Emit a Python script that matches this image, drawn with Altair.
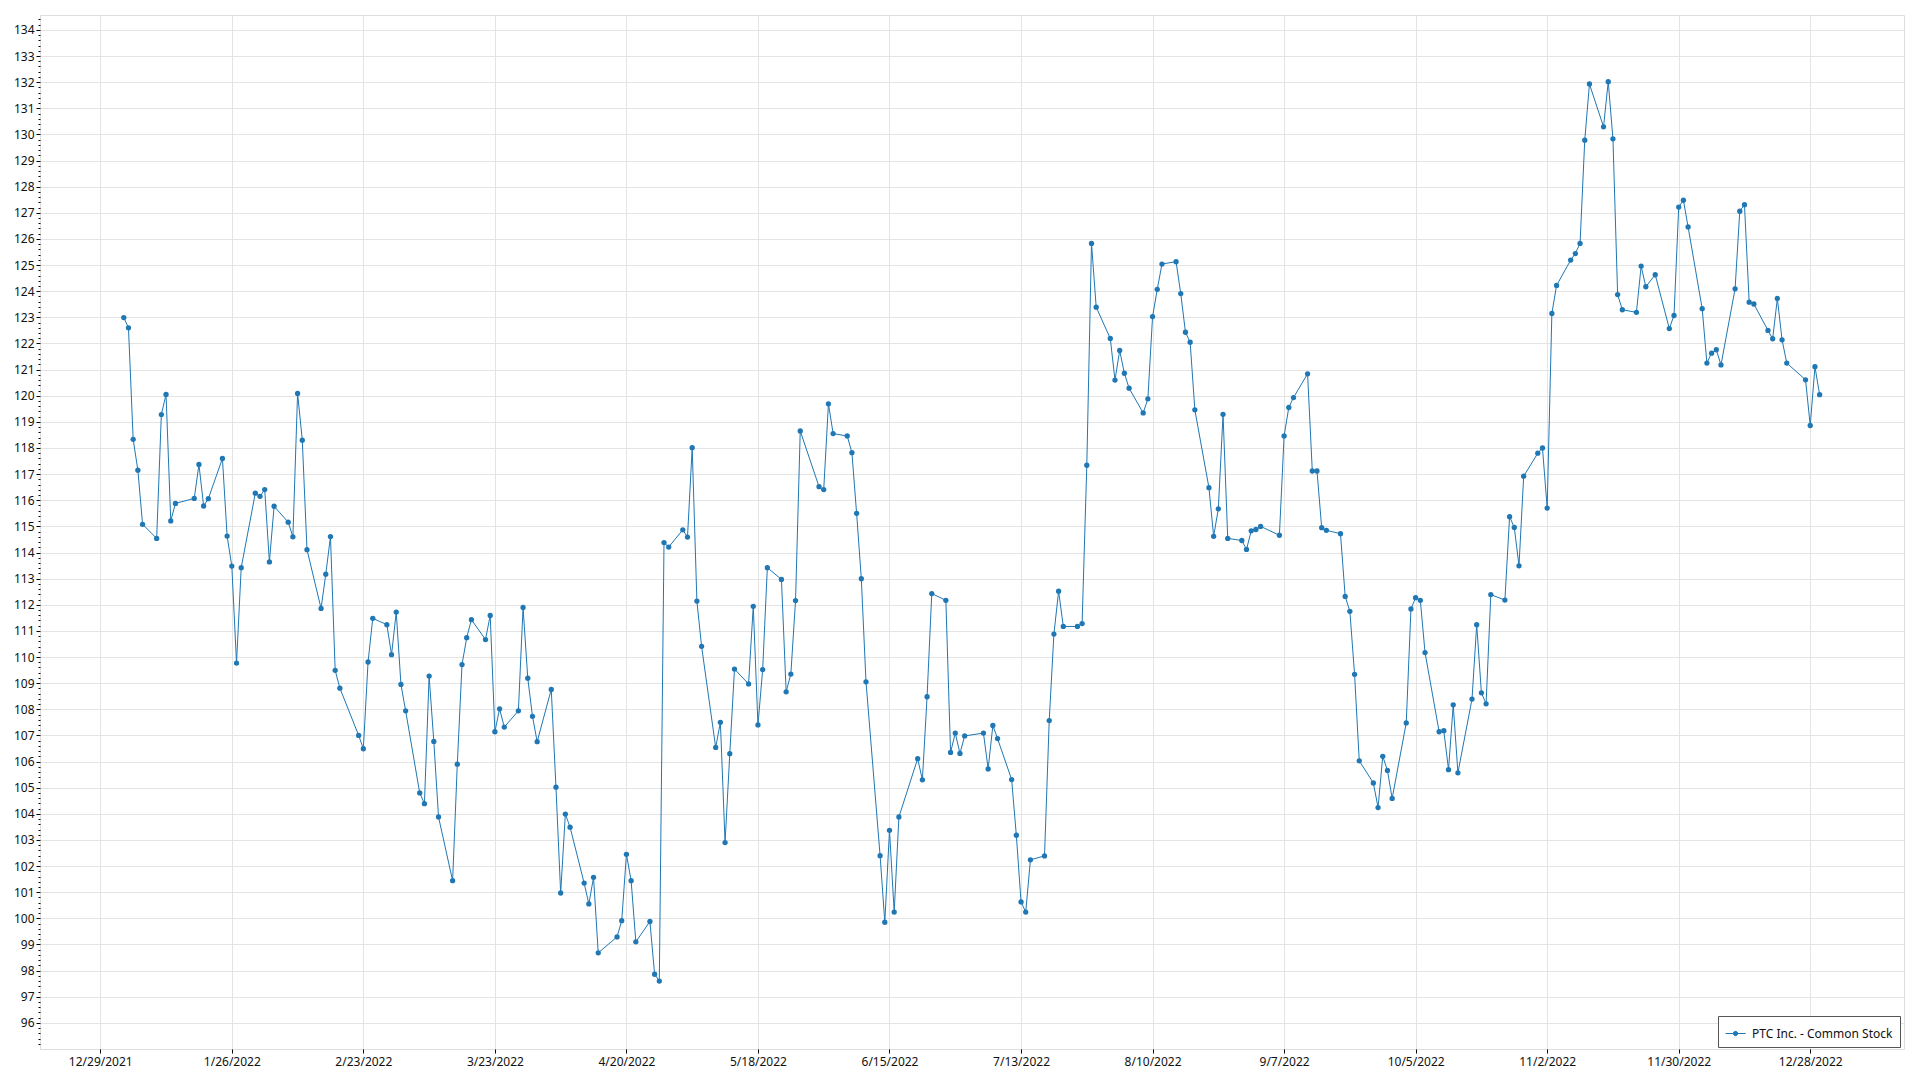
import altair as alt
import pandas as pd

series_name = "PTC Inc. - Common Stock"

# NYSE holidays falling on weekdays in 2022 (no trading)
holidays = ["2022-01-17", "2022-02-21", "2022-04-15", "2022-05-30", "2022-06-20",
            "2022-07-04", "2022-09-05", "2022-11-24", "2022-12-26"]

jan = [122.99, 122.6, 118.33, 117.15, 115.08, 114.54, 119.28, 120.05, 115.21, 115.88,
       116.07, 117.37, 115.78, 116.06, 117.6, 114.63, 113.48, 109.77, 113.42, 116.27]
feb = [116.15, 116.41, 113.64, 115.77, 115.16, 114.6, 120.09, 118.3, 114.11, 111.86,
       113.17, 114.61, 109.49, 108.81, 107.0, 106.49, 109.81, 111.48, 111.24]
mar = [110.09, 111.72, 108.95, 107.94, 104.8, 104.39, 109.27, 106.77, 103.88, 101.44,
       105.9, 109.71, 110.74, 111.43, 110.67, 111.59, 107.14, 108.02, 107.32, 107.94,
       111.9, 109.19, 107.73]
apr = [106.76, 108.76, 105.02, 100.97, 103.99, 103.49, 101.35, 100.55, 101.57, 98.68,
       99.29, 99.91, 102.45, 101.44, 99.1, 99.88, 97.86, 97.6, 114.38, 114.21]
may = [114.87, 114.59, 118.01, 112.14, 110.41, 106.54, 107.5, 102.9, 106.3, 109.54,
       108.97, 111.94, 107.4, 109.52, 113.42, 112.97, 108.67, 109.35, 112.16, 118.65,
       116.52]
jun = [116.41, 119.69, 118.55, 118.46, 117.82, 115.5, 113.0, 109.05, 102.4, 99.85,
       103.37, 100.24, 103.88, 106.11, 105.3, 108.48, 112.43, 112.17, 106.35, 107.09,
       106.31]
jul = [106.98, 107.09, 105.72, 107.38, 106.88, 105.31, 103.18, 100.63, 100.24, 102.24,
       102.39, 107.57, 110.88, 112.52, 111.17, 111.17, 111.28, 117.34, 125.83, 123.39]
aug = [122.19, 120.6, 121.73, 120.86, 120.29, 119.34, 119.88, 123.03, 124.07, 125.04,
       125.13, 123.91, 122.43, 122.05, 119.46, 116.48, 114.62, 115.67, 119.29, 114.54,
       114.46, 114.12, 114.83]
sep = [114.88, 115.0, 114.66, 118.46, 119.55, 119.93, 120.84, 117.12, 117.12, 114.95,
       114.85, 114.72, 112.32, 111.75, 109.34, 106.03, 105.18, 104.24, 106.2, 105.66,
       104.59]
oct = [107.48, 111.84, 112.27, 112.17, 110.17, 107.14, 107.18, 105.69, 108.17, 105.57,
       108.39, 111.24, 108.63, 108.21, 112.39, 112.18, 115.37, 114.96, 113.49, 116.92,
       117.8]
nov = [118.0, 115.7, 123.15, 124.22, 125.19, 125.44, 125.83, 129.78, 131.93, 130.29,
       132.02, 129.83, 123.87, 123.29, 123.19, 124.96, 124.17, 124.63, 122.57, 123.07,
       127.22]
dec = [127.48, 126.46, 123.33, 121.25, 121.63, 121.76, 121.18, 124.09, 127.06, 127.31,
       123.58, 123.51, 122.5, 122.18, 123.72, 122.14, 121.25, 120.61, 118.86, 121.11,
       120.04]

prices = jan + feb + mar + apr + may + jun + jul + aug + sep + oct + nov + dec

x_ticks = ["2021-12-29", "2022-01-26", "2022-02-23", "2022-03-23", "2022-04-20",
           "2022-05-18", "2022-06-15", "2022-07-13", "2022-08-10", "2022-09-07",
           "2022-10-05", "2022-11-02", "2022-11-30", "2022-12-28"]
y_ticks = list(range(96, 135))
x_domain = ["2021-12-16T04:00:00", "2023-01-16T23:00:00"]
y_domain = [95.0, 134.57]

trade_dates = pd.bdate_range("2022-01-03", "2022-12-30", freq="C", holidays=holidays)
df = pd.DataFrame({"date": trade_dates.strftime("%Y-%m-%d"),
                   "price": prices,
                   "series": series_name})


def ms(s):
    return int(pd.Timestamp(s).value // 10**6)


FONT = "Noto Sans"
LINE_COLOR = "#1f77b4"

xscale = alt.Scale(type="utc", domain=[ms(d) for d in x_domain], nice=False)
yscale = alt.Scale(domain=y_domain, nice=False, zero=False)

main = alt.Chart(df).mark_line(
    strokeWidth=1,
    color=LINE_COLOR,
    point=alt.OverlayMarkDef(filled=True, size=28, opacity=1, color=LINE_COLOR),
).encode(
    x=alt.X("date:T", scale=xscale, title=None,
            axis=alt.Axis(values=[ms(d) for d in x_ticks],
                          labelExpr="utcFormat(datum.value, '%-m/%-d/%Y')",
                          grid=True, gridColor="#e4e4e4",
                          tickSize=4, labelPadding=3, domain=False,
                          tickColor="#000", labelColor="#111", labelFontSize=12,
                          labelFont=FONT, labelOverlap=False, labelFlush=False)),
    y=alt.Y("price:Q", scale=yscale, title=None,
            axis=alt.Axis(values=y_ticks, grid=True, gridColor="#e4e4e4",
                          tickSize=4, labelPadding=2, domain=False, orient="left",
                          tickColor="#000", labelColor="#111", labelFontSize=12,
                          labelFont=FONT, labelOverlap=False, labelFlush=False)),
    color=alt.Color("series:N", scale=alt.Scale(range=[LINE_COLOR]),
                    legend=alt.Legend(
                        title=None, orient="none", legendX=1678, legendY=1001,
                        fillColor="white", strokeColor="#555", padding=7,
                        labelFont=FONT, labelFontSize=12, labelColor="#111",
                        symbolType="M-1,0L1,0M-0.22,0A0.22,0.22 0 1,0 0.22,0A0.22,0.22 0 1,0 -0.22,0Z",
                        symbolSize=400, symbolStrokeWidth=1,
                        symbolFillColor=LINE_COLOR, symbolStrokeColor=LINE_COLOR,
                        labelOffset=6)),
)

minor_vals = [round(95 + 0.2 * k, 1) for k in range(1, 199) if (k % 5) != 0]
minor = alt.Chart(df).mark_point(opacity=0).encode(
    x=alt.X("date:T", scale=xscale, axis=None),
    y=alt.Y("price:Q", scale=yscale,
            axis=alt.Axis(values=minor_vals, labels=False, grid=False, domain=False,
                          tickSize=2, orient="left", tickColor="#000", title=None)),
)

chart = alt.layer(main, minor).resolve_axis(
    x="independent", y="independent"
).properties(
    width=1864, height=1034,
    autosize=alt.AutoSizeParams(type="none"),
    padding={"left": 32, "top": 7, "right": 4, "bottom": 22},
).configure_view(
    stroke="#000", strokeWidth=1
).configure(
    background="white"
)

chart.save("out.html", embed_options={"renderer": "svg", "actions": False})
